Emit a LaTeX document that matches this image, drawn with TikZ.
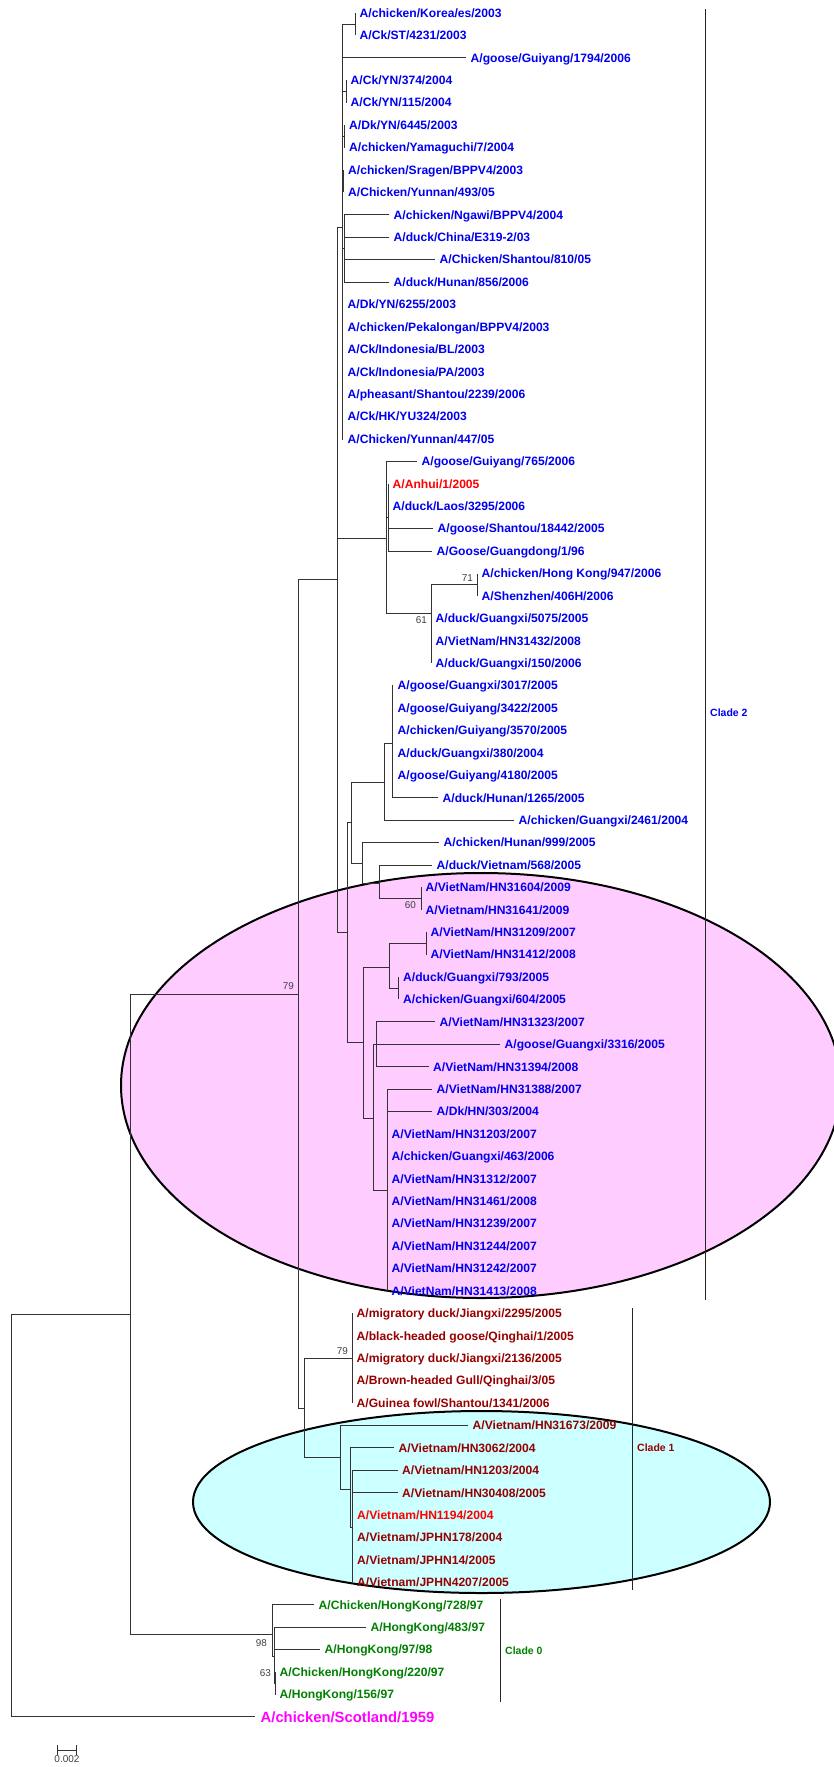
\documentclass[tikz,border=0pt]{standalone}
\usepackage{fontspec}
\setmainfont{Liberation Sans}
\usetikzlibrary{positioning, arrows.meta}

\definecolor{hblue}{RGB}{0,0,240}
\definecolor{hdred}{RGB}{150,0,0}
\definecolor{hred}{RGB}{255,0,0}
\definecolor{hgreen}{RGB}{0,128,0}
\definecolor{hmag}{RGB}{255,0,255}
\definecolor{hpink}{RGB}{255,204,255}
\definecolor{hcyan}{RGB}{204,255,255}

% y of the n-th taxon row
\newcommand{\rowy}[1]{13+22.42*(#1-1)}

\begin{document}
\begin{tikzpicture}[
        x=1pt, y=-1pt,
        leaf/.style={
            anchor=west,
            inner xsep=4.5pt,
            inner ysep=0pt,
            text height=8.6pt,
            text depth=0pt,
            font=\fontsize{12.1}{13}\selectfont\bfseries
        },
        ctwo/.style={leaf, text=hblue},
        cone/.style={leaf, text=hdred},
        czero/.style={leaf, text=hgreen},
        hot/.style={leaf, text=hred},
        branch/.style={draw=black!80, line width=0.9pt},
        boot/.style={inner sep=0pt, text=black!75, font=\fontsize{9.9}{11}\selectfont},
        cladebar/.style={draw=black!85, line width=0.9pt},
        cladelab/.style={anchor=west, inner sep=0pt, font=\fontsize{10.5}{12}\selectfont\bfseries}
    ]
    \useasboundingbox (0,0) rectangle (834,1767);

    % Highlight ellipses
    \coordinate (pinkc) at (481,1085.5);
    \coordinate (cyanc) at (481.5,1502);
    \begin{scope}
        \clip (0,0) rectangle (834,1767);
        \draw[line width=2pt, fill=hpink] (pinkc) ellipse [x radius=360pt, y radius=212.5pt];
    \end{scope}
    \draw[line width=2pt, fill=hcyan] (cyanc) ellipse [x radius=288.5pt, y radius=91pt];

    % Clade 2 taxa
    \node[ctwo] (korea) at (355,{\rowy{1}}) {A/chicken/Korea/es/2003};
    \node[ctwo] (ckst) at (355,{\rowy{2}}) {A/Ck/ST/4231/2003};
    \node[ctwo] (gy1794) at (466,{\rowy{3}}) {A/goose/Guiyang/1794/2006};
    \node[ctwo] (yn374) at (346,{\rowy{4}}) {A/Ck/YN/374/2004};
    \node[ctwo] (yn115) at (346,{\rowy{5}}) {A/Ck/YN/115/2004};
    \node[ctwo] (yn6445) at (344.5,{\rowy{6}}) {A/Dk/YN/6445/2003};
    \node[ctwo] (yamag) at (344.5,{\rowy{7}}) {A/chicken/Yamaguchi/7/2004};
    \node[ctwo] (sragen) at (343.5,{\rowy{8}}) {A/chicken/Sragen/BPPV4/2003};
    \node[ctwo] (yun493) at (343.5,{\rowy{9}}) {A/Chicken/Yunnan/493/05};
    \node[ctwo] (ngawi) at (389,{\rowy{10}}) {A/chicken/Ngawi/BPPV4/2004};
    \node[ctwo] (e319) at (389,{\rowy{11}}) {A/duck/China/E319-2/03};
    \node[ctwo] (st810) at (435,{\rowy{12}}) {A/Chicken/Shantou/810/05};
    \node[ctwo] (hun856) at (389,{\rowy{13}}) {A/duck/Hunan/856/2006};
    \node[ctwo] (yn6255) at (343,{\rowy{14}}) {A/Dk/YN/6255/2003};
    \node[ctwo] (pekal) at (343,{\rowy{15}}) {A/chicken/Pekalongan/BPPV4/2003};
    \node[ctwo] (indobl) at (343,{\rowy{16}}) {A/Ck/Indonesia/BL/2003};
    \node[ctwo] (indopa) at (343,{\rowy{17}}) {A/Ck/Indonesia/PA/2003};
    \node[ctwo] (pheas) at (343,{\rowy{18}}) {A/pheasant/Shantou/2239/2006};
    \node[ctwo] (yu324) at (343,{\rowy{19}}) {A/Ck/HK/YU324/2003};
    \node[ctwo] (yun447) at (343,{\rowy{20}}) {A/Chicken/Yunnan/447/05};
    \node[ctwo] (gy765) at (417,{\rowy{21}}) {A/goose/Guiyang/765/2006};
    \node[hot] (anhui) at (388,{\rowy{22}}) {A/Anhui/1/2005};
    \node[ctwo] (laos) at (388,{\rowy{23}}) {A/duck/Laos/3295/2006};
    \node[ctwo] (st18442) at (433,{\rowy{24}}) {A/goose/Shantou/18442/2005};
    \node[ctwo] (gd96) at (432,{\rowy{25}}) {A/Goose/Guangdong/1/96};
    \node[ctwo] (hk947) at (477,{\rowy{26}}) {A/chicken/Hong Kong/947/2006};
    \node[ctwo] (sz406) at (477,{\rowy{27}}) {A/Shenzhen/406H/2006};
    \node[ctwo] (gx5075) at (431,{\rowy{28}}) {A/duck/Guangxi/5075/2005};
    \node[ctwo] (hn31432) at (431,{\rowy{29}}) {A/VietNam/HN31432/2008};
    \node[ctwo] (gx150) at (431,{\rowy{30}}) {A/duck/Guangxi/150/2006};
    \node[ctwo] (gx3017) at (393,{\rowy{31}}) {A/goose/Guangxi/3017/2005};
    \node[ctwo] (gy3422) at (393,{\rowy{32}}) {A/goose/Guiyang/3422/2005};
    \node[ctwo] (gy3570) at (393,{\rowy{33}}) {A/chicken/Guiyang/3570/2005};
    \node[ctwo] (gx380) at (393,{\rowy{34}}) {A/duck/Guangxi/380/2004};
    \node[ctwo] (gy4180) at (393,{\rowy{35}}) {A/goose/Guiyang/4180/2005};
    \node[ctwo] (hun1265) at (438,{\rowy{36}}) {A/duck/Hunan/1265/2005};
    \node[ctwo] (gx2461) at (514,{\rowy{37}}) {A/chicken/Guangxi/2461/2004};
    \node[ctwo] (hun999) at (439,{\rowy{38}}) {A/chicken/Hunan/999/2005};
    \node[ctwo] (vn568) at (432,{\rowy{39}}) {A/duck/Vietnam/568/2005};
    \node[ctwo] (hn31604) at (421,{\rowy{40}}) {A/VietNam/HN31604/2009};
    \node[ctwo] (hn31641) at (421,{\rowy{41}}) {A/Vietnam/HN31641/2009};
    \node[ctwo] (hn31209) at (426,{\rowy{42}}) {A/VietNam/HN31209/2007};
    \node[ctwo] (hn31412) at (426,{\rowy{43}}) {A/VietNam/HN31412/2008};
    \node[ctwo] (gx793) at (398.5,{\rowy{44}}) {A/duck/Guangxi/793/2005};
    \node[ctwo] (gx604) at (398.5,{\rowy{45}}) {A/chicken/Guangxi/604/2005};
    \node[ctwo] (hn31323) at (435,{\rowy{46}}) {A/VietNam/HN31323/2007};
    \node[ctwo] (gx3316) at (500,{\rowy{47}}) {A/goose/Guangxi/3316/2005};
    \node[ctwo] (hn31394) at (428.5,{\rowy{48}}) {A/VietNam/HN31394/2008};
    \node[ctwo] (hn31388) at (432,{\rowy{49}}) {A/VietNam/HN31388/2007};
    \node[ctwo] (dk303) at (432,{\rowy{50}}) {A/Dk/HN/303/2004};
    \node[ctwo] (hn31203) at (387,{\rowy{51}}) {A/VietNam/HN31203/2007};
    \node[ctwo] (gx463) at (387,{\rowy{52}}) {A/chicken/Guangxi/463/2006};
    \node[ctwo] (hn31312) at (387,{\rowy{53}}) {A/VietNam/HN31312/2007};
    \node[ctwo] (hn31461) at (387,{\rowy{54}}) {A/VietNam/HN31461/2008};
    \node[ctwo] (hn31239) at (387,{\rowy{55}}) {A/VietNam/HN31239/2007};
    \node[ctwo] (hn31244) at (387,{\rowy{56}}) {A/VietNam/HN31244/2007};
    \node[ctwo] (hn31242) at (387,{\rowy{57}}) {A/VietNam/HN31242/2007};
    \node[ctwo] (hn31413) at (387,{\rowy{58}}) {A/VietNam/HN31413/2008};

    % Clade 1 taxa
    \node[cone] (jx2295) at (352,{\rowy{59}}) {A/migratory duck/Jiangxi/2295/2005};
    \node[cone] (qh1) at (352,{\rowy{60}}) {A/black-headed goose/Qinghai/1/2005};
    \node[cone] (jx2136) at (352,{\rowy{61}}) {A/migratory duck/Jiangxi/2136/2005};
    \node[cone] (qh3) at (352,{\rowy{62}}) {A/Brown-headed Gull/Qinghai/3/05};
    \node[cone] (st1341) at (352,{\rowy{63}}) {A/Guinea fowl/Shantou/1341/2006};
    \node[cone] (hn31673) at (468,{\rowy{64}}) {A/Vietnam/HN31673/2009};
    \node[cone] (hn3062) at (394,{\rowy{65}}) {A/Vietnam/HN3062/2004};
    \node[cone] (hn1203) at (397.5,{\rowy{66}}) {A/Vietnam/HN1203/2004};
    \node[cone] (hn30408) at (397.5,{\rowy{67}}) {A/Vietnam/HN30408/2005};
    \node[hot] (hn1194) at (352.5,{\rowy{68}}) {A/Vietnam/HN1194/2004};
    \node[cone] (jp178) at (352.5,{\rowy{69}}) {A/Vietnam/JPHN178/2004};
    \node[cone] (jp14) at (352.5,{\rowy{70}}) {A/Vietnam/JPHN14/2005};
    \node[cone] (jp4207) at (352.5,{\rowy{71}}) {A/Vietnam/JPHN4207/2005};

    % Clade 0 taxa and outgroup
    \node[czero] (hk728) at (314,{\rowy{72}}) {A/Chicken/HongKong/728/97};
    \node[czero] (hk483) at (366,{\rowy{73}}) {A/HongKong/483/97};
    \node[czero] (hk9798) at (320,{\rowy{74}}) {A/HongKong/97/98};
    \node[czero] (hk220) at (275,{\rowy{75}}) {A/Chicken/HongKong/220/97};
    \node[czero] (hk156) at (275,{\rowy{76}}) {A/HongKong/156/97};
    \node[leaf, inner xsep=5.5pt, text height=10.6pt, text=hmag,
          font=\fontsize{14.8}{16}\selectfont\bfseries] (scot) at (255,{\rowy{77}}) {A/chicken/Scotland/1959};

    % Internal nodes
    \coordinate (root) at (11,1515.5);
    \coordinate (ingrp) at (130,1314);
    \coordinate (n79) at (298,994);
    \coordinate (clade2) at (337,579);
    \coordinate (top) at (342,227);
    \coordinate (top1) at (355,24.2);
    \coordinate (top4) at (346,91.5);
    \coordinate (top6) at (344.5,136.3);
    \coordinate (top8) at (343.5,181.1);
    \coordinate (top10) at (344,248.4);
    \coordinate (g21) at (386,538);
    \coordinate (anh) at (388,517.5);
    \coordinate (n61) at (431,613);
    \coordinate (n71) at (477,584.7);
    \coordinate (rest) at (347,932);
    \coordinate (r351) at (351,822);
    \coordinate (r384) at (384,782);
    \coordinate (r392) at (392,743);
    \coordinate (r362) at (362,863);
    \coordinate (r379) at (379,883);
    \coordinate (n60) at (421,898.6);
    \coordinate (r363) at (363,1042);
    \coordinate (r389) at (389,967);
    \coordinate (r426) at (426,943.4);
    \coordinate (r398) at (398.5,988.3);
    \coordinate (r373) at (373,1118);
    \coordinate (r376) at (376,1044.3);
    \coordinate (r387) at (387,1190);
    \coordinate (clade1) at (304,1408);
    \coordinate (q79) at (352,1358.2);
    \coordinate (vn340) at (340,1457);
    \coordinate (vn350) at (350,1489);
    \coordinate (vn352) at (352.5,1527);
    \coordinate (clade0) at (272,1634);
    \coordinate (c0s) at (274,1656);
    \coordinate (n63) at (275,1683.3);

    % Backbone
    \draw[branch] (root) |- (ingrp) (root) |- (scot);
    \draw[branch] (ingrp) |- (n79) (ingrp) |- (clade0);
    \draw[branch] (n79) |- (clade2) (n79) |- (clade1);
    \draw[branch] (clade2) |- (top) (clade2) |- (g21) (clade2) |- (rest);

    % Clade 2 branches
    \draw[branch] (top) |- (top1) (top) |- (gy1794) (top) |- (top4) (top) |- (top6)
        (top) |- (top8) (top) |- (top10) (top) |- (yn6255) (top) |- (pekal)
        (top) |- (indobl) (top) |- (indopa) (top) |- (pheas) (top) |- (yu324) (top) |- (yun447);
    \draw[branch] (top1) |- (korea) (top1) |- (ckst);
    \draw[branch] (top4) |- (yn374) (top4) |- (yn115);
    \draw[branch] (top6) |- (yn6445) (top6) |- (yamag);
    \draw[branch] (top8) |- (sragen) (top8) |- (yun493);
    \draw[branch] (top10) |- (ngawi) (top10) |- (e319) (top10) |- (st810) (top10) |- (hun856);
    \draw[branch] (g21) |- (gy765) (g21) |- (anh) (g21) |- (n61);
    \draw[branch] (anh) |- (anhui) (anh) |- (laos) (anh) |- (st18442) (anh) |- (gd96);
    \draw[branch] (n61) |- (n71) (n61) |- (gx5075) (n61) |- (hn31432) (n61) |- (gx150);
    \draw[branch] (n71) |- (hk947) (n71) |- (sz406);
    \draw[branch] (rest) |- (r351) (rest) |- (r363);
    \draw[branch] (r351) |- (r384) (r351) |- (r362);
    \draw[branch] (r384) |- (r392) (r384) |- (gx2461);
    \draw[branch] (r392) |- (gx3017) (r392) |- (gy3422) (r392) |- (gy3570)
        (r392) |- (gx380) (r392) |- (gy4180) (r392) |- (hun1265);
    \draw[branch] (r362) |- (hun999) (r362) |- (r379);
    \draw[branch] (r379) |- (vn568) (r379) |- (n60);
    \draw[branch] (n60) |- (hn31604) (n60) |- (hn31641);
    \draw[branch] (r363) |- (r389) (r363) |- (r373);
    \draw[branch] (r389) |- (r426) (r389) |- (r398);
    \draw[branch] (r426) |- (hn31209) (r426) |- (hn31412);
    \draw[branch] (r398) |- (gx793) (r398) |- (gx604);
    \draw[branch] (r373) |- (r376) (r373) |- (gx3316) (r373) |- (r387);
    \draw[branch] (r376) |- (hn31323) (r376) |- (hn31394);
    \draw[branch] (r387) |- (hn31388) (r387) |- (dk303) (r387) |- (hn31203) (r387) |- (gx463)
        (r387) |- (hn31312) (r387) |- (hn31461) (r387) |- (hn31239) (r387) |- (hn31244)
        (r387) |- (hn31242) (r387) |- (hn31413);

    % Clade 1 branches
    \draw[branch] (clade1) |- (q79) (clade1) |- (vn340);
    \draw[branch] (q79) |- (jx2295) (q79) |- (qh1) (q79) |- (jx2136) (q79) |- (qh3) (q79) |- (st1341);
    \draw[branch] (vn340) |- (hn31673) (vn340) |- (vn350);
    \draw[branch] (vn350) |- (hn3062) (vn350) |- (vn352);
    \draw[branch] (vn352) |- (hn1203) (vn352) |- (hn30408) (vn352) |- (hn1194)
        (vn352) |- (jp178) (vn352) |- (jp14) (vn352) |- (jp4207);

    % Clade 0 branches
    \draw[branch] (clade0) |- (hk728) (clade0) |- (c0s);
    \draw[branch] (c0s) |- (hk483) (c0s) |- (hk9798) (c0s) |- (n63);
    \draw[branch] (n63) |- (hk220) (n63) |- (hk156);

    % Bootstrap values
    \node[boot, above left=3pt and 4pt] (bs71) at (n71) {71};
    \node[boot, below left=3pt and 4pt] (bs61) at (n61) {61};
    \node[boot, below left=3pt and 5pt] (bs60) at (n60) {60};
    \node[boot, above left=4pt and 4pt] (bs79a) at (n79) {79};
    \node[boot, above left=3pt and 4pt] (bs79b) at (q79) {79};
    \node[boot, below left=5pt and 5pt] (bs98) at (clade0) {98};
    \node[boot, above left=7pt and 4pt] (bs63) at (n63) {63};

    % Clade bars
    \coordinate (c2a) at (705,9);
    \coordinate (c2b) at (705,1300);
    \coordinate (c1a) at (632,1308);
    \coordinate (c1b) at (632,1590);
    \coordinate (c0a) at (500,1599);
    \coordinate (c0b) at (500,1702);
    \draw[cladebar] (c2a) -- (c2b);
    \draw[cladebar] (c1a) -- (c1b);
    \draw[cladebar] (c0a) -- (c0b);
    \node[cladelab, text=hblue] (c2lab) at (710,713) {Clade 2};
    \node[cladelab, text=hdred] (c1lab) at (637,1448) {Clade 1};
    \node[cladelab, text=hgreen] (c0lab) at (505,1651) {Clade 0};

    % Scale bar
    \coordinate (sbl) at (57,1750);
    \coordinate (sbr) at (77,1750);
    \draw[line width=0.9pt, draw=black!80, {Bar[width=10pt]}-{Bar[width=10pt]}] (sbl) -- (sbr);
    \node[boot, anchor=north, font=\fontsize{10}{11}\selectfont] (sblab) at (67,1755.5) {0.002};

\end{tikzpicture}
\end{document}
